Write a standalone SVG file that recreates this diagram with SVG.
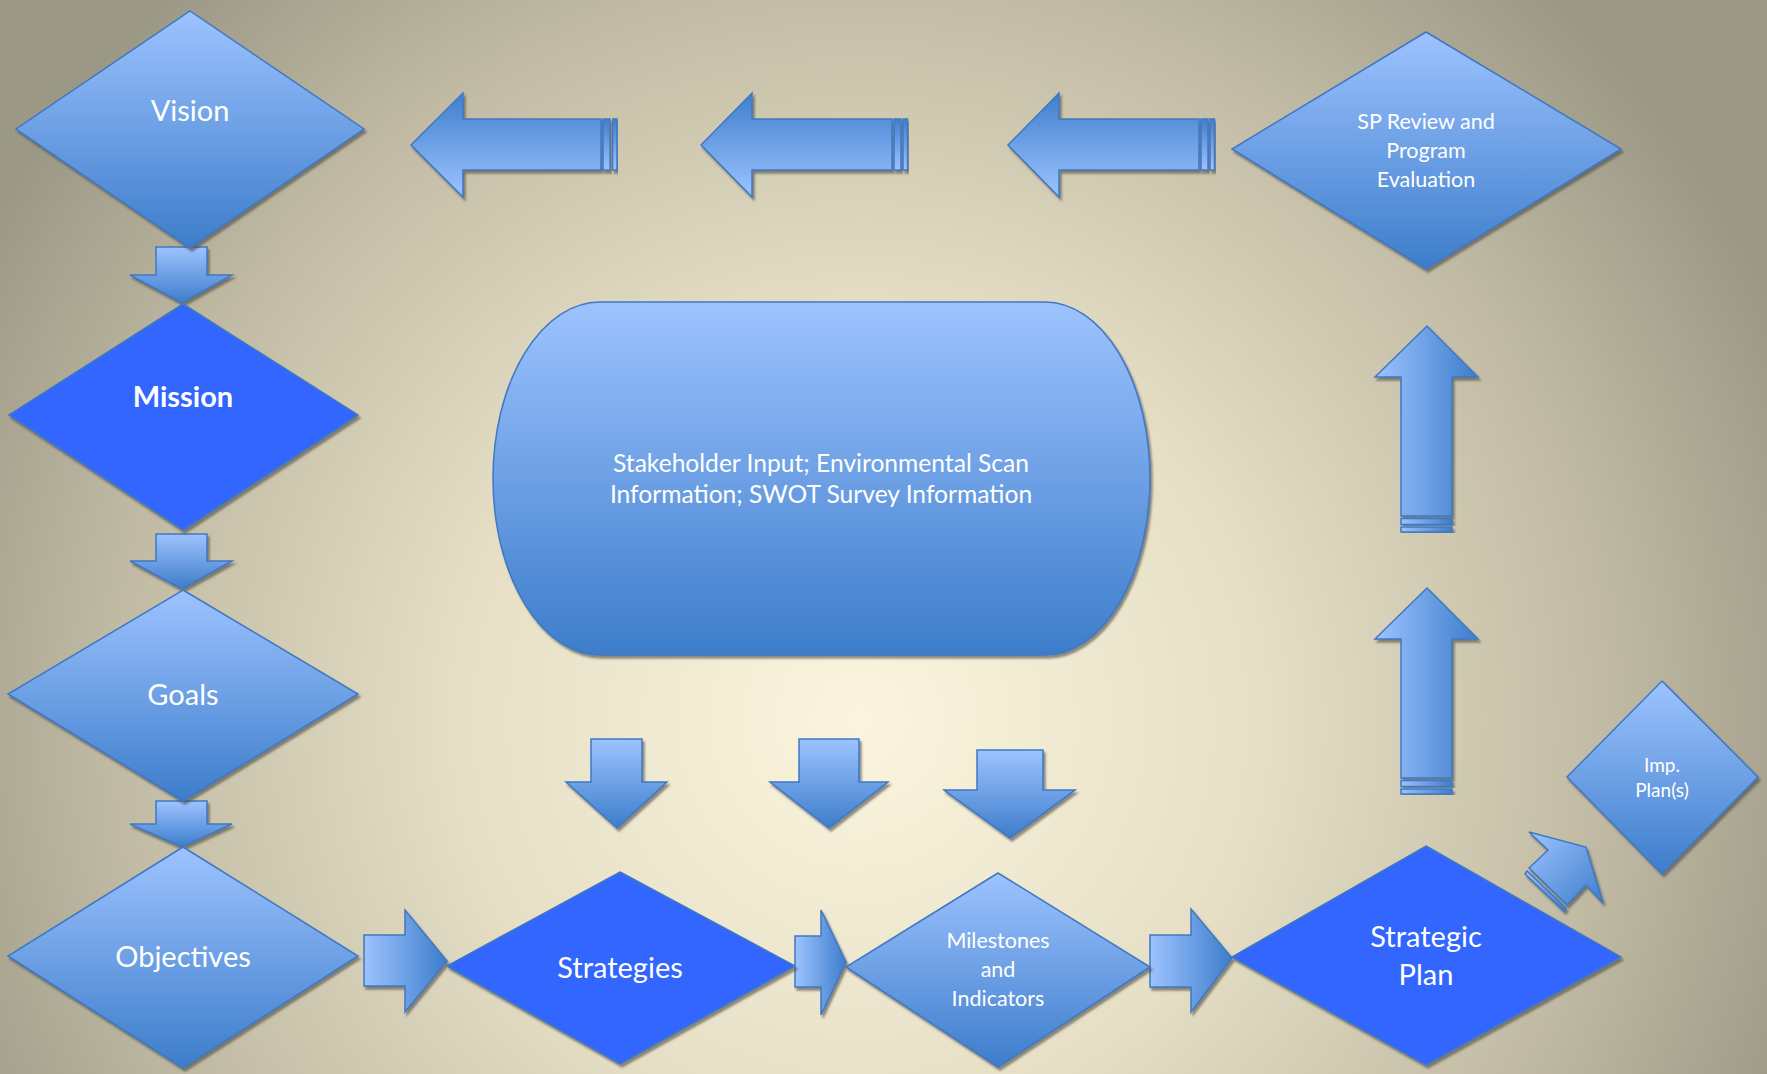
<svg xmlns="http://www.w3.org/2000/svg" width="1767" height="1074" viewBox="0 0 1767 1074">
<defs>
  <radialGradient id="bg" gradientUnits="userSpaceOnUse" cx="860" cy="720" r="1000">
    <stop offset="0" stop-color="#fbf5df"/>
    <stop offset="0.4" stop-color="#e6dfc6"/>
    <stop offset="0.75" stop-color="#c0baa4"/>
    <stop offset="1" stop-color="#9b9886"/>
  </radialGradient>
  <linearGradient id="gDown" x1="0" y1="0" x2="0" y2="1">
    <stop offset="0" stop-color="#9dc3ff"/>
    <stop offset="1" stop-color="#3d7dcb"/>
  </linearGradient>
  <linearGradient id="gUpDark" x1="0" y1="0" x2="0" y2="1">
    <stop offset="0" stop-color="#3f7fcd"/>
    <stop offset="1" stop-color="#9dc3ff"/>
  </linearGradient>
  <linearGradient id="gRight" x1="0" y1="0" x2="1" y2="0">
    <stop offset="0" stop-color="#9dc3ff"/>
    <stop offset="1" stop-color="#3d7dcb"/>
  </linearGradient>
  <linearGradient id="gDiag" x1="0" y1="0" x2="1" y2="1">
    <stop offset="0" stop-color="#9dc3ff"/>
    <stop offset="1" stop-color="#3d7dcb"/>
  </linearGradient>
  <filter id="sh" x="-10%" y="-10%" width="125%" height="125%">
    <feDropShadow dx="2" dy="3" stdDeviation="1" flood-color="#4a4a42" flood-opacity="0.6"/>
  </filter>
  <style>
    .d { fill: url(#gDown); stroke: #3f78c2; stroke-width: 1.5; filter: url(#sh); }
    .hi { fill: #3366ff; stroke: #3f78c2; stroke-width: 1.5; filter: url(#sh); }
    .ad { fill: url(#gDown); stroke: #3f78c2; stroke-width: 1.5; filter: url(#sh); }
    .al { fill: url(#gUpDark); stroke: #3f78c2; stroke-width: 1.5; filter: url(#sh); }
    .ar { fill: url(#gRight); stroke: #3f78c2; stroke-width: 1.5; filter: url(#sh); }
    .ag { fill: url(#gDiag); stroke: #3f78c2; stroke-width: 1.5; filter: url(#sh); }
    text { font-family: Lato, "Open Sans", "Liberation Sans", sans-serif; fill: #ffffff; text-anchor: middle; }
    .big { font-size: 29px; }
    .mid { font-size: 21.5px; }
    .sm { font-size: 19px; }
  </style>
</defs>
<rect x="0" y="0" width="1767" height="1074" fill="url(#bg)"/>

<g id="connectors">
  <!-- left column down arrows -->
  <polygon class="ad" points="156,247 207,247 207,275 232,275 182,303 130,275 156,275"/>
  <polygon class="ad" points="156,534 207,534 207,561 232,561 182,589 130,561 156,561"/>
  <polygon class="ad" points="156,801 207,801 207,824 232,824 182,847 130,824 156,824"/>
  <!-- bottom row right arrows -->
  <polygon class="ar" points="364,935 405,935 405,910 447,961 405,1012 405,986 364,986"/>
  <polygon class="ar" points="795,936 821,936 821,910 846,962 821,1015 821,987 795,987"/>
  <polygon class="ar" points="1150,935 1191,935 1191,909 1232,958 1191,1012 1191,987 1150,987"/>
  <!-- down arrows from central box -->
  <polygon class="ad" points="591,739 642,739 642,782 667,782 617,828 566,782 591,782"/>
  <polygon class="ad" points="799,739 859,739 859,782 888,782 829,828 770,782 799,782"/>
  <polygon class="ad" points="977,750 1043,750 1043,790 1075,790 1010,838 944,790 977,790"/>
  <!-- up arrows on right -->
  <g>
    <polygon class="ar" points="1401,778 1401,639 1375,639 1427,588 1478,639 1452,639 1452,778"/>
    <rect class="ar" x="1401" y="780.5" width="51" height="6"/>
    <rect class="ar" x="1401" y="789" width="51" height="5"/>
  </g>
  <g>
    <polygon class="ar" points="1401,516 1401,377 1375,377 1427,326 1478,377 1452,377 1452,516"/>
    <rect class="ar" x="1401" y="518.5" width="51" height="6"/>
    <rect class="ar" x="1401" y="527" width="51" height="5"/>
  </g>
  <!-- left arrows on top -->
  <g>
    <polygon class="al" points="601,119 463,119 463,93 411,145 463,197 463,170 601,170"/>
    <rect class="al" x="603" y="119" width="7" height="51"/>
    <rect class="al" x="612.5" y="119" width="4.5" height="51"/>
  </g>
  <g>
    <polygon class="al" points="892,119 752,119 752,93 701,145 752,197 752,170 892,170"/>
    <rect class="al" x="894" y="119" width="7" height="51"/>
    <rect class="al" x="903" y="119" width="4.5" height="51"/>
  </g>
  <g>
    <polygon class="al" points="1199,119 1059,119 1059,93 1008,145 1059,197 1059,170 1199,170"/>
    <rect class="al" x="1201" y="119" width="7" height="51"/>
    <rect class="al" x="1210" y="119" width="4.5" height="51"/>
  </g>
  <!-- diagonal arrow to Imp. Plan(s) -->
  <g>
    <polygon class="ag" points="1529,868 1548,850 1529,832 1586,847 1603,903 1586,885 1567,905"/>
    <polygon class="ag" points="1527,871 1566,908 1564,911 1525,874"/>
  </g>
</g>

<g id="vision">
  <polygon class="d" points="190,11 364,129 190,248 16,129"/>
  <text class="big" x="190" y="121">Vision</text>
</g>
<g id="mission">
  <polygon class="hi" points="183,304 358,415 183,530 9,415"/>
  <text class="big" x="183" y="407" font-weight="bold">Mission</text>
</g>
<g id="goals">
  <polygon class="d" points="183,590 358,694 183,801 8,694"/>
  <text class="big" x="183" y="705">Goals</text>
</g>
<g id="objectives">
  <polygon class="d" points="183,847 358,956 183,1068 8,956"/>
  <text class="big" x="183" y="967">Objectives</text>
</g>
<g id="strategies">
  <polygon class="hi" points="620,872 795,966 620,1064 447,966"/>
  <text class="big" x="620" y="978">Strategies</text>
</g>
<g id="milestones">
  <polygon class="d" points="998,873 1150,967 998,1067 846,967"/>
  <text class="mid" x="998" y="948">Milestones</text>
  <text class="mid" x="998" y="977">and</text>
  <text class="mid" x="998" y="1006">Indicators</text>
</g>
<g id="strategic-plan">
  <polygon class="hi" points="1426,846 1621,957 1426,1065 1232,957"/>
  <text class="big" x="1426" y="947">Strategic</text>
  <text class="big" x="1426" y="985">Plan</text>
</g>
<g id="imp-plans">
  <polygon class="d" points="1662,681 1758,777 1662,874 1567,777"/>
  <text class="sm" x="1662" y="772">Imp.</text>
  <text class="sm" x="1662" y="797">Plan(s)</text>
</g>
<g id="sp-review">
  <polygon class="d" points="1426,32 1621,149 1426,269 1232,149"/>
  <text class="mid" x="1426" y="129">SP Review and</text>
  <text class="mid" x="1426" y="158">Program</text>
  <text class="mid" x="1426" y="187">Evaluation</text>
</g>
<g id="stakeholder-input">
  <path class="d" d="M600,302 H1045 A105,176.5 0 0 1 1150,478.5 A105,176.5 0 0 1 1045,655 H600 A107,176.5 0 0 1 493,478.5 A107,176.5 0 0 1 600,302 Z"/>
  <text x="821" y="472" font-size="24.6">Stakeholder Input; Environmental Scan</text>
  <text x="821" y="503" font-size="24.6">Information; SWOT Survey Information</text>
</g>
</svg>
